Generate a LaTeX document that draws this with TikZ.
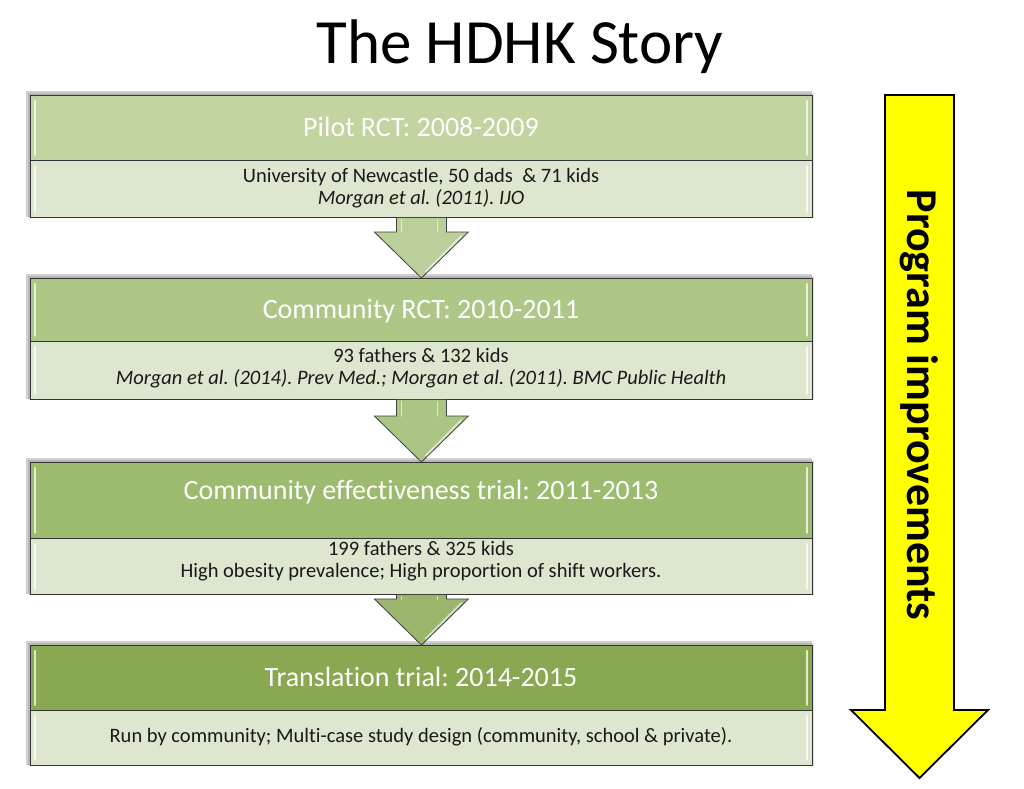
\documentclass[tikz,border=0pt]{standalone}
\usepackage{fontspec}
\setmainfont[RawFeature=-liga]{Carlito}
\usetikzlibrary{calc}
\definecolor{hA}{RGB}{194,213,160}
\definecolor{hB}{RGB}{174,199,135}
\definecolor{hC}{RGB}{157,187,110}
\definecolor{hD}{RGB}{138,168,82}
\definecolor{bodyc}{RGB}{221,230,206}
\definecolor{txt}{RGB}{25,25,25}
\definecolor{yel}{RGB}{255,255,0}
\tikzset{
  hdr/.style={draw=black!80, line width=0.8pt, minimum width=782pt, inner sep=0pt, anchor=north west},
  bdy/.style={draw=black!80, line width=0.8pt, fill=bodyc, minimum width=782pt, inner sep=0pt, anchor=north west},
  htext/.style={text=white, font=\fontsize{28}{33}\selectfont},
  btext/.style={text=txt, align=center, font=\fontsize{20.5}{22}\selectfont},
  garrow/.style={draw=black!75, line width=0.8pt, line join=miter},
  gloss/.style={draw=white, line width=2.2pt, opacity=0.75, line cap=round},
  shad/.style={fill=black, opacity=0.18},
}
\frenchspacing
\begin{document}
\begin{tikzpicture}[x=1pt,y=-1pt]
\useasboundingbox (0,0) rectangle (1024,788);
\fill[white] (0,0) rectangle (1024,788);
% title
\node[font=\fontsize{63}{70}\selectfont, text=black] (title) at (520,47) {The HDHK Story};

% shadows
\foreach \a/\b in {95/217,278/399,462/594,645/765}{
  \fill[shad] (26,\a-4) rectangle (812,\b);
  \fill[black,opacity=0.12] (28,\a-2) rectangle (814,\b+1);
}

% boxes
\node[hdr, fill=hA, minimum height=65pt] (h1) at (30,95) {};
\node[bdy, minimum height=57pt] (b1) at (30,160) {};
\node[hdr, fill=hB, minimum height=63pt] (h2) at (30,278) {};
\node[bdy, minimum height=58pt] (b2) at (30,341) {};
\node[hdr, fill=hC, minimum height=76pt] (h3) at (30,462) {};
\node[bdy, minimum height=56pt] (b3) at (30,538) {};
\node[hdr, fill=hD, minimum height=65pt] (h4) at (30,645) {};
\node[bdy, minimum height=55pt] (b4) at (30,710) {};

% gloss strips
\foreach \n in {h1,b1,h2,b2,h3,b3,h4,b4}{
  \draw[gloss] ($(\n.north west)+(5,6)$) -- ($(\n.south west)+(5,-6)$);
  \draw[gloss] ($(\n.north east)+(-6,6)$) -- ($(\n.south east)+(-6,-6)$);
}

% texts
\node[htext] (t1) at (421,127) {Pilot RCT: 2008-2009};
\node[btext] (u1) at (421,188) {University of Newcastle, 50 dads\ \ \& 71 kids\\ \itshape Morgan et al. (2011). IJO};
\node[htext] (t2) at (421,311) {Community RCT: 2010-2011};
\node[btext] (u2) at (421,368) {93 fathers \& 132 kids\\ \itshape Morgan et al. (2014). Prev Med.; Morgan et al. (2011). BMC Public Health};
\node[htext] (t3) at (421,492) {Community effectiveness trial: 2011-2013};
\node[btext] (u3) at (421,561) {199 fathers \& 325 kids\\ High obesity prevalence; High proportion of shift workers.};
\node[htext] (t4) at (421,677) {Translation trial: 2014-2015};
\node[btext] (u4) at (421,737) {Run by community; Multi-case study design (community, school \& private).};

% connector arrows
\foreach \s/\t/\c in {b1/h2/hB,b2/h3/hC,b3/h4/hD}{
  \fill[\c!85!white]
    ($(\s.south)+(-25,0)$) -- ($(\t.north)+(-25,-46)$) -- ($(\t.north)+(-47,-46)$) -- (\t.north)
    -- ($(\t.north)+(47,-46)$) -- ($(\t.north)+(25,-46)$) -- ($(\s.south)+(25,0)$) -- cycle;
  \draw[garrow]
    ($(\s.south)+(-25,0)$) -- ($(\t.north)+(-25,-46)$) -- ($(\t.north)+(-47,-46)$) -- (\t.north)
    -- ($(\t.north)+(47,-46)$) -- ($(\t.north)+(25,-46)$) -- ($(\s.south)+(25,0)$);
  \draw[gloss, line width=1.8pt, opacity=0.6] ($(\s.south)+(-20,2)$) -- ($(\t.north)+(-20,-46)$);
  \draw[gloss, line width=1.8pt, opacity=0.6] ($(\s.south)+(16,2)$) -- ($(\t.north)+(16,-46)$);
  \draw[gloss, line width=1.8pt, opacity=0.6] ($(\t.north)+(40,-42)$) -- ($(\t.north)+(4,-6)$);
}

% big yellow arrow
\coordinate (ytop) at (919.5,95);
\coordinate (ytip) at (919.5,778);
\filldraw[fill=yel, draw=black, line width=1.8pt, line join=miter]
  (885,95) -- (954,95) -- (954,710) -- (988,710) -- (ytip) -- (851,710) -- (885,710) -- cycle;
\node[rotate=-90, font=\bfseries\fontsize{44}{50}\selectfont, text=black] (prog) at (919.5,405) {Program improvements};
\end{tikzpicture}
\end{document}
